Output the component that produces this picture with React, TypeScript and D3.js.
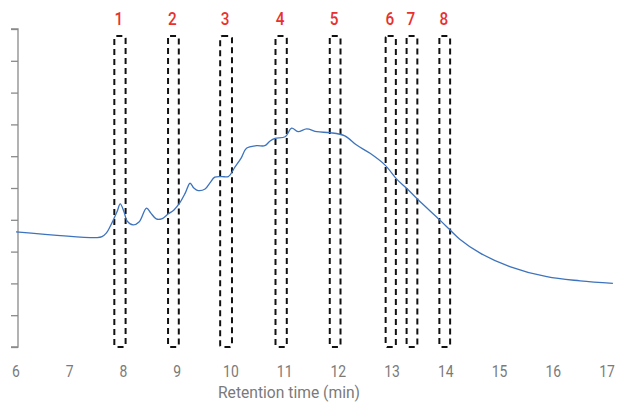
import React, { useEffect, useRef } from "react";
import * as d3 from "d3";

// retention time (min) and detector signal (arbitrary units, 0-10)
const times = [
  6.0, 7.51, 7.6, 7.68, 7.75, 7.88, 7.94, 8.01, 8.07, 8.18, 8.29, 8.43, 8.51,
  8.61, 8.71, 8.83, 8.94, 9.05, 9.15, 9.24, 9.31, 9.39, 9.52, 9.61, 9.7, 9.83,
  9.95, 10.08, 10.19, 10.29, 10.48, 10.63, 10.73, 10.82, 11.01, 11.13, 11.25,
  11.41, 11.6, 11.84, 12.12, 12.34, 12.59, 12.87, 13.09, 13.27, 13.49, 13.89,
  14.08, 14.26, 14.64, 15.19, 15.88, 16.5, 17.11,
];
const signal = [
  3.62, 3.44, 3.47, 3.58, 3.78, 4.25, 4.5, 4.25, 3.96, 3.84, 3.93, 4.37, 4.21,
  4.03, 4.03, 4.18, 4.31, 4.54, 4.84, 5.15, 5.0, 4.92, 4.97, 5.16, 5.34, 5.36,
  5.36, 5.67, 5.94, 6.25, 6.33, 6.33, 6.48, 6.56, 6.61, 6.88, 6.77, 6.86, 6.77,
  6.74, 6.64, 6.35, 6.09, 5.72, 5.27, 4.99, 4.62, 3.99, 3.68, 3.39, 2.95, 2.53,
  2.21, 2.08, 2.0,
];

// fraction windows
const fractionLabels = ["1", "2", "3", "4", "5", "6", "7", "8"];
const fractionStart = [7.83, 8.83, 9.8, 10.83, 11.84, 12.88, 13.27, 13.88];
const fractionEnd = [8.04, 9.03, 10.02, 11.04, 12.04, 13.07, 13.47, 14.08];

const xTicks = [6, 7, 8, 9, 10, 11, 12, 13, 14, 15, 16, 17];
const yTicks = [0, 1, 2, 3, 4, 5, 6, 7, 8, 9, 10];

const W = 619;
const H = 402;
const FONT = "Roboto, 'Liberation Sans', sans-serif";
// no condensed font installed, so squeeze Roboto horizontally
const SQUEEZE = 0.82;

const App = () => {
  const ref = useRef<SVGSVGElement>(null);

  useEffect(() => {
    const svg = d3.select(ref.current);
    svg.selectAll("*").remove();

    const x = d3.scaleLinear().domain([6, 17]).range([16, 607]);
    const y = d3.scaleLinear().domain([0, 10]).range([347, 29]);

    // y axis (no labels)
    const yAxis = svg
      .append("g")
      .attr("transform", "translate(18,0)")
      .call(d3.axisLeft(y).tickValues(yTicks).tickSize(7).tickFormat(() => ""));
    yAxis.selectAll("line, path").attr("stroke", "#8a8a8a").attr("stroke-width", 1.3);
    yAxis.select(".domain").attr("d", `M-7,${y(10)}H0V${y(0)}H-7`);

    // x tick labels
    svg
      .append("g")
      .selectAll("text")
      .data(xTicks)
      .enter()
      .append("text")
      .attr("transform", (d) => `translate(${x(d)},377) scale(${SQUEEZE},1)`)
      .attr("text-anchor", "middle")
      .attr("font-family", FONT)
      .attr("font-size", 17)
      .attr("fill", "#7a7a7a")
      .text((d) => d);

    svg
      .append("text")
      .attr("transform", `translate(289,398) scale(0.92,1)`)
      .attr("text-anchor", "middle")
      .attr("font-family", FONT)
      .attr("font-size", 17)
      .attr("fill", "#7a7a7a")
      .text("Retention time (min)");

    // fraction boxes
    const boxes = svg
      .append("g")
      .selectAll("g")
      .data(fractionLabels)
      .enter()
      .append("g");

    boxes
      .append("rect")
      .attr("x", (d, i) => x(fractionStart[i]))
      .attr("y", y(9.78))
      .attr("width", (d, i) => x(fractionEnd[i]) - x(fractionStart[i]))
      .attr("height", y(0) - y(9.78))
      .attr("rx", 2)
      .attr("fill", "none")
      .attr("stroke", "#111")
      .attr("stroke-width", 2)
      .attr("stroke-dasharray", "6,4");

    boxes
      .append("text")
      .attr(
        "transform",
        (d, i) =>
          `translate(${(x(fractionStart[i]) + x(fractionEnd[i])) / 2 - 1},25) scale(0.85,1)`
      )
      .attr("text-anchor", "middle")
      .attr("font-family", FONT)
      .attr("font-size", 18)
      .attr("font-weight", 500)
      .attr("fill", "#e8312f")
      .text((d) => d);

    // chromatogram
    const pts = times.map((t, i) => [t, signal[i]] as [number, number]);
    const line = d3
      .line<[number, number]>()
      .x((d) => x(d[0]))
      .y((d) => y(d[1]))
      .curve(d3.curveCatmullRom.alpha(0.5));

    svg
      .append("path")
      .datum(pts)
      .attr("d", line)
      .attr("fill", "none")
      .attr("stroke", "#3d73bd")
      .attr("stroke-width", 1.3);
  }, []);

  return (
    <svg
      ref={ref}
      width={W}
      height={H}
      style={{ position: "absolute", left: 0, top: 0, background: "#fff" }}
    ></svg>
  );
};

export default App;
